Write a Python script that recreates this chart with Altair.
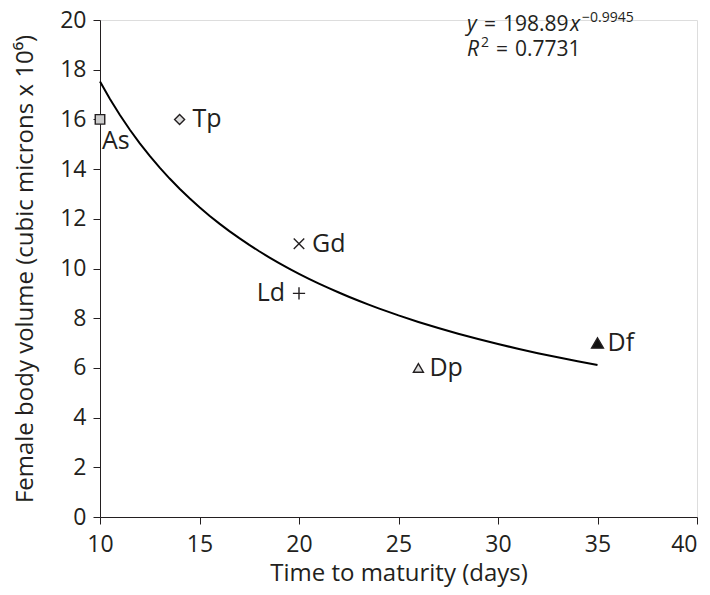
import altair as alt
import pandas as pd

species = ["As", "Tp", "Gd", "Ld", "Dp", "Df"]
days = [10, 14, 20, 20, 26, 35]
volume = [16, 16, 11, 9, 6, 7]
shapes = ["square", "diamond", "M-1,-1L1,1M-1,1L1,-1", "M-1,0L1,0M0,-1L0,1", "triangle-up", "triangle-up"]
fills = ["#cccccc", "#dddddd", "transparent", "transparent", "#dddddd", "#111111"]
filled = [True, True, False, False, True, True]
sizes = [90, 100, 110, 150, 100, 140]
lab_dx = [2, 13, 13, -14, 11, 10]
lab_dy = [22, 0, 0, 0, 0, 0]
lab_align = ["left", "left", "left", "right", "left", "left"]

x_ticks = [10, 15, 20, 25, 30, 35, 40]
y_ticks = [0, 2, 4, 6, 8, 10, 12, 14, 16, 18, 20]

FONT = "Open Sans"
INK = "#231f20"

df = pd.DataFrame({"sp": species, "x": days, "y": volume})

xs = alt.Scale(domain=[10, 40], nice=False)
ys = alt.Scale(domain=[0, 20], nice=False)
xenc = alt.X("x:Q", scale=xs, axis=alt.Axis(values=x_ticks, title="Time to maturity (days)", grid=False,
                                            domainColor=INK, tickColor=INK, tickSize=7, labelFontSize=23,
                                            titleFontSize=24, labelColor=INK, titleColor=INK, titleFontWeight="normal",
                                            labelFont=FONT, titleFont=FONT, titlePadding=5, labelPadding=9,
                                            labelFlush=False, labelOverlap=False,
                                            labelAlign=alt.expr("datum.value == 40 ? 'right' : 'center'")))
yenc = alt.Y("y:Q", scale=ys, axis=alt.Axis(values=y_ticks, title="Female body volume (cubic microns x 10⁶)", grid=False,
                                            domainColor=INK, tickColor=INK, tickSize=7, labelFontSize=23,
                                            titleFontSize=24, labelColor=INK, titleColor=INK, titleFontWeight="normal",
                                            labelFont=FONT, titleFont=FONT, titlePadding=22, labelPadding=7,
                                            labelFlush=False, labelOverlap=False))

base = alt.Chart(df)

fit = base.transform_regression("x", "y", method="pow", extent=[10, 35]).mark_line(
    color="black", strokeWidth=2).encode(x=xenc, y=yenc)

layers = [fit]
for i, s in enumerate(species):
    sub = df[df.sp == s]
    pt = alt.Chart(sub).mark_point(shape=shapes[i], size=sizes[i], filled=filled[i],
                                   fill=fills[i], stroke=INK, strokeWidth=1.4, opacity=1).encode(
        x=alt.X("x:Q", scale=xs), y=alt.Y("y:Q", scale=ys))
    lab = alt.Chart(sub).mark_text(align=lab_align[i], baseline="middle", dx=lab_dx[i], dy=lab_dy[i],
                                   fontSize=25, font=FONT, color=INK).encode(
        x=alt.X("x:Q", scale=xs), y=alt.Y("y:Q", scale=ys), text="sp:N")
    layers += [pt, lab]

eq_parts = [
    ("y", 367, 11, 21, "italic"),
    ("=", 384, 11, 21, "normal"),
    ("198.89", 403, 11, 21, "normal"),
    ("x", 470, 11, 21, "italic"),
    ("−0.9945", 482, 2, 14, "normal"),
    ("R", 367, 36, 21, "italic"),
    ("2", 381, 27, 14, "normal"),
    ("=", 396, 36, 21, "normal"),
    ("0.7731", 415, 36, 21, "normal"),
]
for t, px, py, fs, st in eq_parts:
    layers.append(alt.Chart(pd.DataFrame({"t": [t]})).mark_text(
        align="left", baseline="alphabetic", fontSize=fs, font=FONT, fontStyle=st, color=INK).encode(
        x=alt.value(px), y=alt.value(py), text="t:N"))

chart = alt.layer(*layers).properties(
    width=597, height=497,
    autosize=alt.AutoSizeParams(type="none"),
    padding={"left": 92, "top": 12, "right": 5, "bottom": 70},
).configure_view(stroke=None).configure(background="white")

chart.save("out.html", embed_options={"renderer": "svg", "actions": False})
